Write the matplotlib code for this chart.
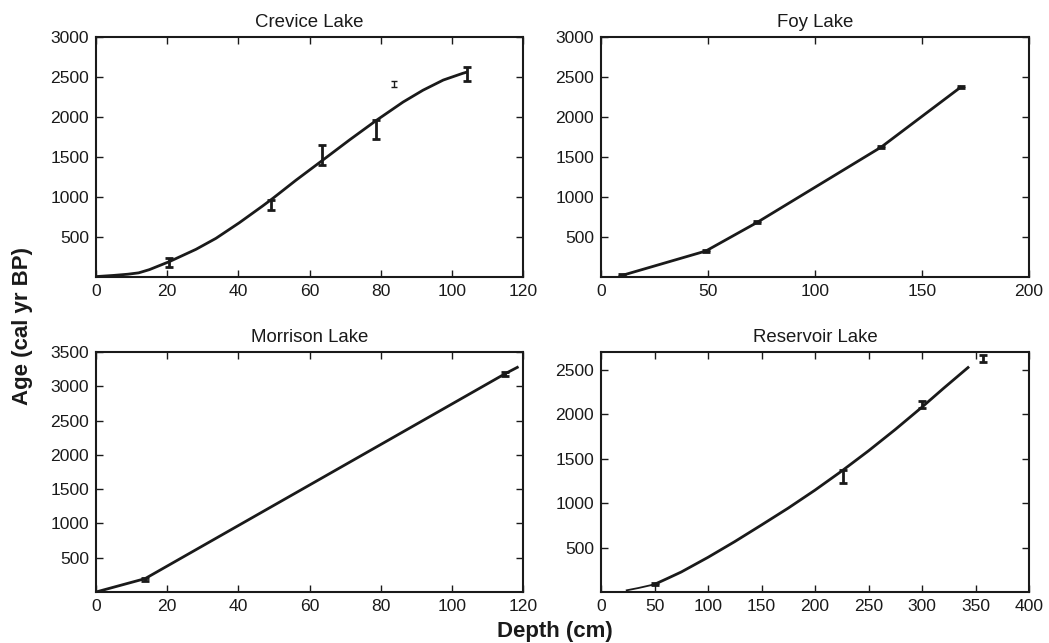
import matplotlib
matplotlib.use("Agg")
import matplotlib.pyplot as plt
import numpy as np

plt.rcParams['font.family'] = ['Liberation Sans', 'DejaVu Sans']

# ---- Crevice Lake ----
crevice_curve_x = [0, 5, 9, 12, 15, 20.6, 28.1, 33.7, 40.3, 46.8, 49.7, 56.2, 63.4,
                   71.3, 78.8, 86.3, 91.9, 97.6, 103, 104]
crevice_curve_y = [5, 20, 35, 52, 92, 192, 346, 483, 679, 887, 983, 1210, 1450,
                   1715, 1958, 2187, 2335, 2462, 2545, 2558]
crevice_err_x = [20.5, 49.3, 63.4, 78.8, 104.3]
crevice_err_lo = [125, 833, 1396, 1721, 2450]
crevice_err_hi = [242, 967, 1646, 1967, 2625]
crevice_thin_x = [83.8]
crevice_thin_lo = [2375]
crevice_thin_hi = [2450]

# ---- Foy Lake ----
foy_x = [10, 49, 73, 131, 168]
foy_y = [21, 325, 683, 1625, 2371]
foy_err = [12, 12, 12, 12, 12]

# ---- Morrison Lake ----
morrison_curve_x = [0, 13.8, 115, 118.4]
morrison_curve_y = [0, 195, 3184, 3276]
morrison_err_x = [13.8, 115]
morrison_err_y = [180, 3184]
morrison_err = [25, 30]

# ---- Reservoir Lake ----
reservoir_curve_x = [24, 35, 50, 62, 75, 100, 125, 150, 175, 200, 225, 250, 275, 300, 320, 343]
reservoir_curve_y = [19, 45, 86, 152, 225, 390, 567, 754, 944, 1146, 1361, 1588, 1828, 2080, 2290, 2525]
reservoir_err_x = [50, 226, 300, 357]
reservoir_err_lo = [75, 1229, 2073, 2586]
reservoir_err_hi = [105, 1368, 2144, 2661]

fig = plt.figure(figsize=(10.49, 6.43), dpi=100)
W, H = 1049, 643

def mkax(l, r, t, b):
    return fig.add_axes([l / W, 1 - b / H, (r - l) / W, (b - t) / H])

axTL = mkax(96, 523, 37, 277)
axTR = mkax(601, 1029, 37, 277)
axBL = mkax(96, 523, 352, 592)
axBR = mkax(601, 1029, 352, 592)

def style(ax, title, xlim, ylim, xticks, yticks):
    ax.set_title(title, fontsize=13.4, pad=7, color='#1a1a1a')
    ax.set_xlim(*xlim)
    ax.set_ylim(*ylim)
    ax.set_xticks(xticks)
    ax.set_yticks(yticks)
    ax.tick_params(direction='in', top=True, right=True, length=5, width=1,
                   labelsize=12.6, pad=5, colors='#1a1a1a')
    for s in ax.spines.values():
        s.set_linewidth(1.5)
        s.set_color('#1a1a1a')

def ebar(ax, x, lo, hi, lw=2.0, cap=3):
    x = np.asarray(x, float)
    lo = np.asarray(lo, float)
    hi = np.asarray(hi, float)
    mid = (lo + hi) / 2
    ax.errorbar(x, mid, yerr=[mid - lo, hi - mid], fmt='none', ecolor='#1a1a1a',
                elinewidth=lw, capsize=cap, capthick=lw)

c = '#1a1a1a'
# Crevice
axTL.plot(crevice_curve_x, crevice_curve_y, color=c, lw=2, solid_joinstyle='round')
ebar(axTL, crevice_err_x, crevice_err_lo, crevice_err_hi)
ebar(axTL, crevice_thin_x, crevice_thin_lo, crevice_thin_hi, lw=1.0, cap=2.5)
style(axTL, 'Crevice Lake', (0, 120), (0, 3000), range(0, 121, 20), range(500, 3001, 500))

# Foy
axTR.plot(foy_x, foy_y, color=c, lw=2)
fy = np.asarray(foy_y, float)
fe = np.asarray(foy_err, float)
ebar(axTR, foy_x, fy - fe, fy + fe, lw=2.0, cap=3)
style(axTR, 'Foy Lake', (0, 200), (0, 3000), range(0, 201, 50), range(500, 3001, 500))

# Morrison
axBL.plot(morrison_curve_x, morrison_curve_y, color=c, lw=2)
my = np.asarray(morrison_err_y, float)
me = np.asarray(morrison_err, float)
ebar(axBL, morrison_err_x, my - me, my + me, lw=2.0, cap=3)
style(axBL, 'Morrison Lake', (0, 120), (0, 3500), range(0, 121, 20), range(500, 3501, 500))

# Reservoir
axBR.plot(reservoir_curve_x[:3], reservoir_curve_y[:3], color=c, lw=1.3, solid_joinstyle='round')
axBR.plot(reservoir_curve_x[2:], reservoir_curve_y[2:], color=c, lw=2, solid_joinstyle='round')
ebar(axBR, reservoir_err_x, reservoir_err_lo, reservoir_err_hi)
style(axBR, 'Reservoir Lake', (0, 400), (0, 2700), range(0, 401, 50), range(500, 2501, 500))

fig.text(23 / W, 1 - 326 / H, 'Age (cal yr BP)', rotation=90, ha='center', va='center',
         fontsize=16, fontweight='bold', color='#1a1a1a')
fig.text(555 / W, 1 - 632 / H, 'Depth (cm)', ha='center', va='center',
         fontsize=16, fontweight='bold', color='#1a1a1a')

fig.savefig('out.png', dpi=100)
